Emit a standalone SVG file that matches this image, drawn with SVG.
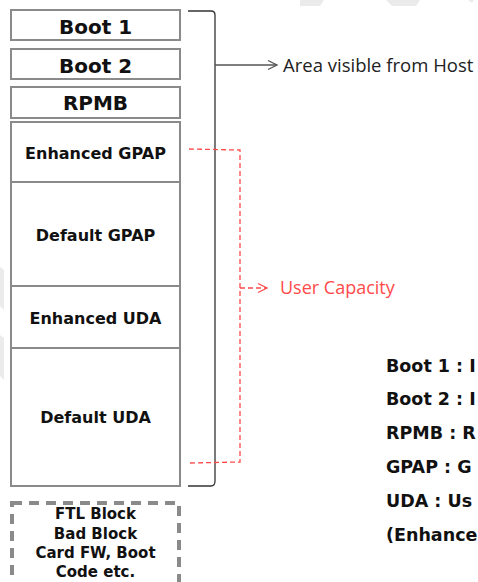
<svg xmlns="http://www.w3.org/2000/svg" width="478" height="582" viewBox="0 0 478 582">
<style>
.box{fill:#fff;stroke:#8a8a8a;stroke-width:2}
.lbl{font-family:"DejaVu Sans","Noto Sans",sans-serif;font-weight:bold;fill:#111;text-anchor:middle}
.big{font-size:20px}
.mid{font-size:16px}
.sm{font-size:15px}
.leg{font-family:"DejaVu Sans","Noto Sans",sans-serif;font-weight:bold;font-size:17.5px;fill:#111}
.wm{fill:#ebebeb}
</style>
<defs>
<marker id="chevB" markerWidth="12" markerHeight="12" refX="10" refY="6" orient="auto" markerUnits="userSpaceOnUse">
<path d="M1,1.5 L10,6 L1,10.5" fill="none" stroke="#555" stroke-width="1.3"/>
</marker>
<marker id="chevR" markerWidth="12" markerHeight="12" refX="10" refY="6" orient="auto" markerUnits="userSpaceOnUse">
<path d="M1,1.5 L10,6 L1,10.5" fill="none" stroke="#ff4a4a" stroke-width="1.3"/>
</marker>
</defs>
<rect width="478" height="582" fill="#fff"/>
<g id="watermark">
<polygon class="wm" points="300,0 324,0 320,6 300,6"/>
<polygon class="wm" points="386,0 420,0 416,6 392,6"/>
<polygon class="wm" points="468,0 474,0 472,3"/>
<polygon class="wm" points="0,267 4,270 4,310 0,306"/>
<polygon class="wm" points="0,335 4,338 4,380 0,376"/>
</g>
<g id="boot1"><rect class="box" x="11" y="10" width="169" height="30"/><text class="lbl big" x="95.5" y="34">Boot 1</text></g>
<g id="boot2"><rect class="box" x="11" y="49" width="169" height="30"/><text class="lbl big" x="95.5" y="73">Boot 2</text></g>
<g id="rpmb"><rect class="box" x="11" y="87" width="169" height="31"/><text class="lbl big" x="95.5" y="110">RPMB</text></g>
<g id="enh-gpap"><rect class="box" x="11" y="122" width="169" height="60"/><text class="lbl mid" x="95.5" y="159">Enhanced GPAP</text></g>
<g id="def-gpap"><rect class="box" x="11" y="182" width="169" height="104"/><text class="lbl mid" x="95.5" y="241">Default GPAP</text></g>
<g id="enh-uda"><rect class="box" x="11" y="286" width="169" height="62"/><text class="lbl mid" x="95.5" y="324">Enhanced UDA</text></g>
<g id="def-uda"><rect class="box" x="11" y="348" width="169" height="138"/><text class="lbl mid" x="95.5" y="423">Default UDA</text></g>
<g id="hidden">
<rect x="12" y="503" width="167" height="90" fill="none" stroke="#8a8a8a" stroke-width="4" stroke-dasharray="10,7"/>
<text class="lbl sm" x="95.5" y="519">FTL Block</text>
<text class="lbl sm" x="95.5" y="539">Bad Block</text>
<text class="lbl sm" x="95.5" y="558">Card FW, Boot</text>
<text class="lbl sm" x="95.5" y="577">Code etc.</text>
</g>
<g id="connectors">
<path d="M188,11 L211,11 Q215,11 215,15 L215,481 Q215,486 211,486 L188,486" fill="none" stroke="#333" stroke-width="1.3"/>
<line x1="215" y1="65" x2="277" y2="65" stroke="#555" stroke-width="1.3" marker-end="url(#chevB)"/>
<path d="M189,149 L240,150 L240,462 L190,463" fill="none" stroke="#ff4a4a" stroke-width="1.3" stroke-dasharray="5,3"/>
<line x1="240" y1="288" x2="267" y2="288" stroke="#ff4a4a" stroke-width="1.3" stroke-dasharray="5,3" marker-end="url(#chevR)"/>
</g>
<g id="labels">
<text x="283" y="72" font-family="'Open Sans','Noto Sans',sans-serif" font-size="18.5" fill="#222">Area visible from Host</text>
<text x="280" y="294" font-family="'Open Sans','Noto Sans',sans-serif" font-size="18" fill="#ff4a4a">User Capacity</text>
</g>
<g id="legend">
<text class="leg" x="386" y="372">Boot 1 : I</text>
<text class="leg" x="386" y="405">Boot 2 : I</text>
<text class="leg" x="386" y="439">RPMB : R</text>
<text class="leg" x="386" y="473">GPAP : G</text>
<text class="leg" x="386" y="507">UDA : Us</text>
<text class="leg" x="386" y="541">(Enhance</text>
</g>
</svg>
